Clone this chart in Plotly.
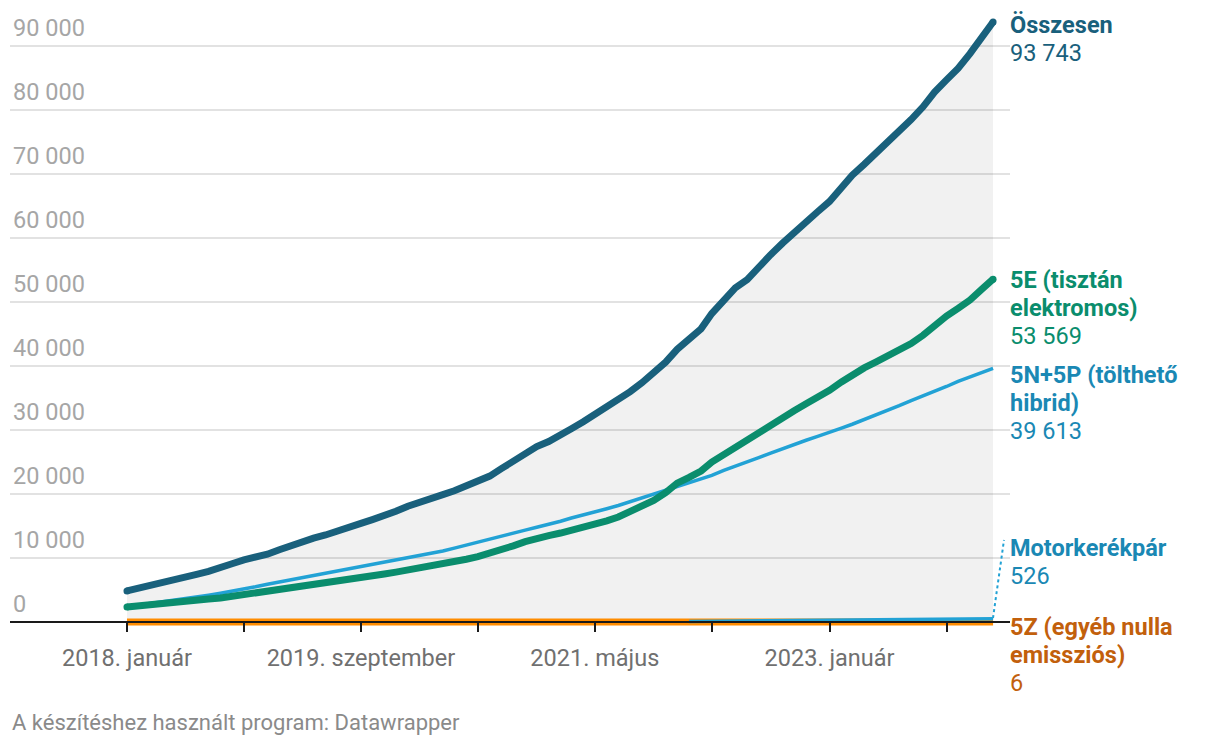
import plotly.graph_objects as go
import pandas as pd

months = [d.strftime("%Y-%m-%d") for d in pd.date_range("2018-01-01", periods=75, freq="MS")]

osszesen = [4850, 5250, 5800, 6150, 6600, 7000, 7450, 7900, 8400, 9100,
            9700, 10100, 10600, 11300, 11950, 12500, 13100, 13600, 14100, 14700,
            15400, 16000, 16600, 17300, 18100, 18800, 19300, 19900, 20500, 21300,
            22000, 22800, 24000, 25100, 26500, 27400, 28200, 29100, 30200, 31300,
            32400, 33500, 34700, 36000, 37400, 39000, 40600, 42600, 44100, 45800,
            48200, 50200, 52200, 53500, 55600, 57400, 59200, 60700, 62500, 64100,
            65700, 67900, 69800, 71500, 73200, 74900, 76600, 78500, 80500, 82800,
            84700, 86500, 88800, 91200, 93743]

e5 = [2340, 2550, 2800, 2950, 3150, 3300, 3450, 3600, 3750, 4000,
      4300, 4500, 4700, 4950, 5250, 5500, 5750, 6000, 6250, 6500,
      6800, 7150, 7500, 7800, 8100, 8400, 8750, 9050, 9400, 9800,
      10200, 10700, 11250, 11900, 12550, 13100, 13500, 13900, 14300, 14800,
      15300, 15800, 16400, 17200, 18000, 19000, 20200, 21700, 22600, 23600,
      25000, 26200, 27300, 28400, 29700, 30900, 32000, 33000, 34100, 35100,
      36200, 37500, 38700, 39700, 40600, 41500, 42500, 43500, 44800, 46400,
      47800, 49000, 50300, 52000, 53569]

np_hibrid = [2400, 2650, 2950, 3250, 3500, 3750, 3950, 4200, 4500, 4800,
             5150, 5500, 5900, 6250, 6600, 6950, 7300, 7600, 7950, 8300,
             8650, 9000, 9300, 9650, 9950, 10300, 10700, 11100, 11550, 12000,
             12450, 12900, 13400, 13850, 14350, 14800, 15250, 15750, 16250, 16700,
             17150, 17700, 18200, 18800, 19400, 20000, 20600, 21150, 21700, 22300,
             22900, 23700, 24400, 25000, 25700, 26400, 27100, 27800, 28400, 29000,
             29600, 30300, 30900, 31600, 32300, 33000, 33800, 34600, 35300, 36100,
             36800, 37600, 38300, 39000, 39613]

motor = [None] * 48 + [95, 110, 122, 138, 150, 166, 180, 193, 210, 224,
                       238, 255, 268, 284, 300, 316, 333, 350, 368, 385,
                       402, 420, 441, 460, 482, 503, 526]

z5 = [0] * 40 + [1, 1, 1, 1, 1, 1, 1, 1, 1, 2, 2, 2, 2, 2, 2, 2, 3, 3, 3, 3,
                 3, 3, 4, 4, 4, 4, 4, 4, 5, 5, 5, 5, 5, 6, 6]

tick_vals = ["2018-01-01", "2018-11-01", "2019-09-01", "2020-07-01",
             "2021-05-01", "2022-03-01", "2023-01-01", "2023-11-01"]
tick_text = ["2018. január", "", "2019. szeptember", "", "2021. május", "", "2023. január", ""]
y_ticks = [0, 10000, 20000, 30000, 40000, 50000, 60000, 70000, 80000, 90000]
y_text = ["0", "10 000", "20 000", "30 000", "40 000", "50 000", "60 000", "70 000", "80 000", "90 000"]

label_names = [["Összesen"], ["5E (tisztán", "elektromos)"], ["5N+5P (tölthető", "hibrid)"],
               ["Motorkerékpár"], ["5Z (egyéb nulla", "emissziós)"]]
label_values = ["93 743", "53 569", "39 613", "526", "6"]

C_TOT = "#19607c"
C_E = "#0a8d6d"
C_NP = "#22a2d5"
C_NP_TXT = "#1a88b4"
C_Z = "#ff8c00"
C_Z_TXT = "#c2600c"

W, H = 1220, 748
L, R, T, B = 10, 210, 10, 108
PH = H - T - B
FS = 23.5


def py(p):
    return (H - B - p) / PH


fig = go.Figure()
fig.add_trace(go.Scatter(x=months, y=osszesen, mode="lines", fill="tozeroy",
                         fillcolor="rgba(0,0,0,0.055)",
                         line=dict(color=C_TOT, width=7), hoverinfo="skip"))
fig.add_trace(go.Scatter(x=months, y=z5, mode="lines", line=dict(color=C_Z, width=7), hoverinfo="skip"))
fig.add_trace(go.Scatter(x=months, y=motor, mode="lines", line=dict(color=C_NP, width=3.5), hoverinfo="skip"))
fig.add_trace(go.Scatter(x=months, y=np_hibrid, mode="lines", line=dict(color=C_NP, width=3.5), hoverinfo="skip"))
fig.add_trace(go.Scatter(x=months, y=e5, mode="lines", line=dict(color=C_E, width=7), hoverinfo="skip"))
# round end caps
fig.add_trace(go.Scatter(x=[months[0], months[-1]], y=[osszesen[0], osszesen[-1]], mode="markers",
                         marker=dict(size=7, color=C_TOT, opacity=1, line=dict(width=0)), hoverinfo="skip"))
fig.add_trace(go.Scatter(x=[months[0], months[-1]], y=[e5[0], e5[-1]], mode="markers",
                         marker=dict(size=7, color=C_E, opacity=1, line=dict(width=0)), hoverinfo="skip"))

y0 = -(18 / 6.4) * 1000
y1 = (612 / 6.4) * 1000

fig.update_layout(
    width=W, height=H, margin=dict(l=L, r=R, t=T, b=B),
    paper_bgcolor="white", plot_bgcolor="white",
    showlegend=False,
    font=dict(family="Roboto", size=FS),
    xaxis=dict(type="date", range=["2017-03-03", "2024-04-14"],
               tickvals=tick_vals, ticktext=tick_text,
               showgrid=False, showline=True, linecolor="#1a1a1a", linewidth=2,
               ticks="outside", ticklen=9, tickwidth=2, tickcolor="#1a1a1a",
               tickfont=dict(size=FS, color="#707070"), ticklabelstandoff=6,
               anchor="free", position=18 / PH, zeroline=False),
    yaxis=dict(range=[y0, y1], tickvals=y_ticks, ticktext=y_text,
               showgrid=True, gridcolor="#e2e2e2", gridwidth=2,
               ticklabelposition="inside top", tickfont=dict(size=FS, color="#a6a6a6"),
               ticklabelshift=-2,
               zeroline=False, showline=False, ticks=""),
)

label_colors = [C_TOT, C_E, C_NP_TXT, C_NP_TXT, C_Z_TXT]
label_first_center = [25, 280, 375, 548, 627]
LS = 28
XL = (1008 - L) / (W - L - R)
for names, val, col, c0 in zip(label_names, label_values, label_colors, label_first_center):
    lines = [("<b>%s</b>" % n) for n in names] + [val]
    for k, t in enumerate(lines):
        fig.add_annotation(xref="paper", yref="paper", x=XL, y=py(c0 + k * LS),
                           xanchor="left", yanchor="middle", align="left", showarrow=False,
                           text=t, font=dict(size=FS, color=col, family="Roboto"))

fig.add_shape(type="line", xref="paper", yref="paper",
              x0=(993 - L) / (W - L - R), y0=py(618), x1=(1004 - L) / (W - L - R), y1=py(540),
              line=dict(color=C_NP, width=2, dash="dot"))

fig.add_annotation(xref="paper", yref="paper", x=0, y=py(737), xanchor="left", yanchor="bottom",
                   showarrow=False, text="A készítéshez használt program: Datawrapper",
                   font=dict(size=22, color="#8a8a8a", family="Roboto"))

fig.write_html("out.html")
